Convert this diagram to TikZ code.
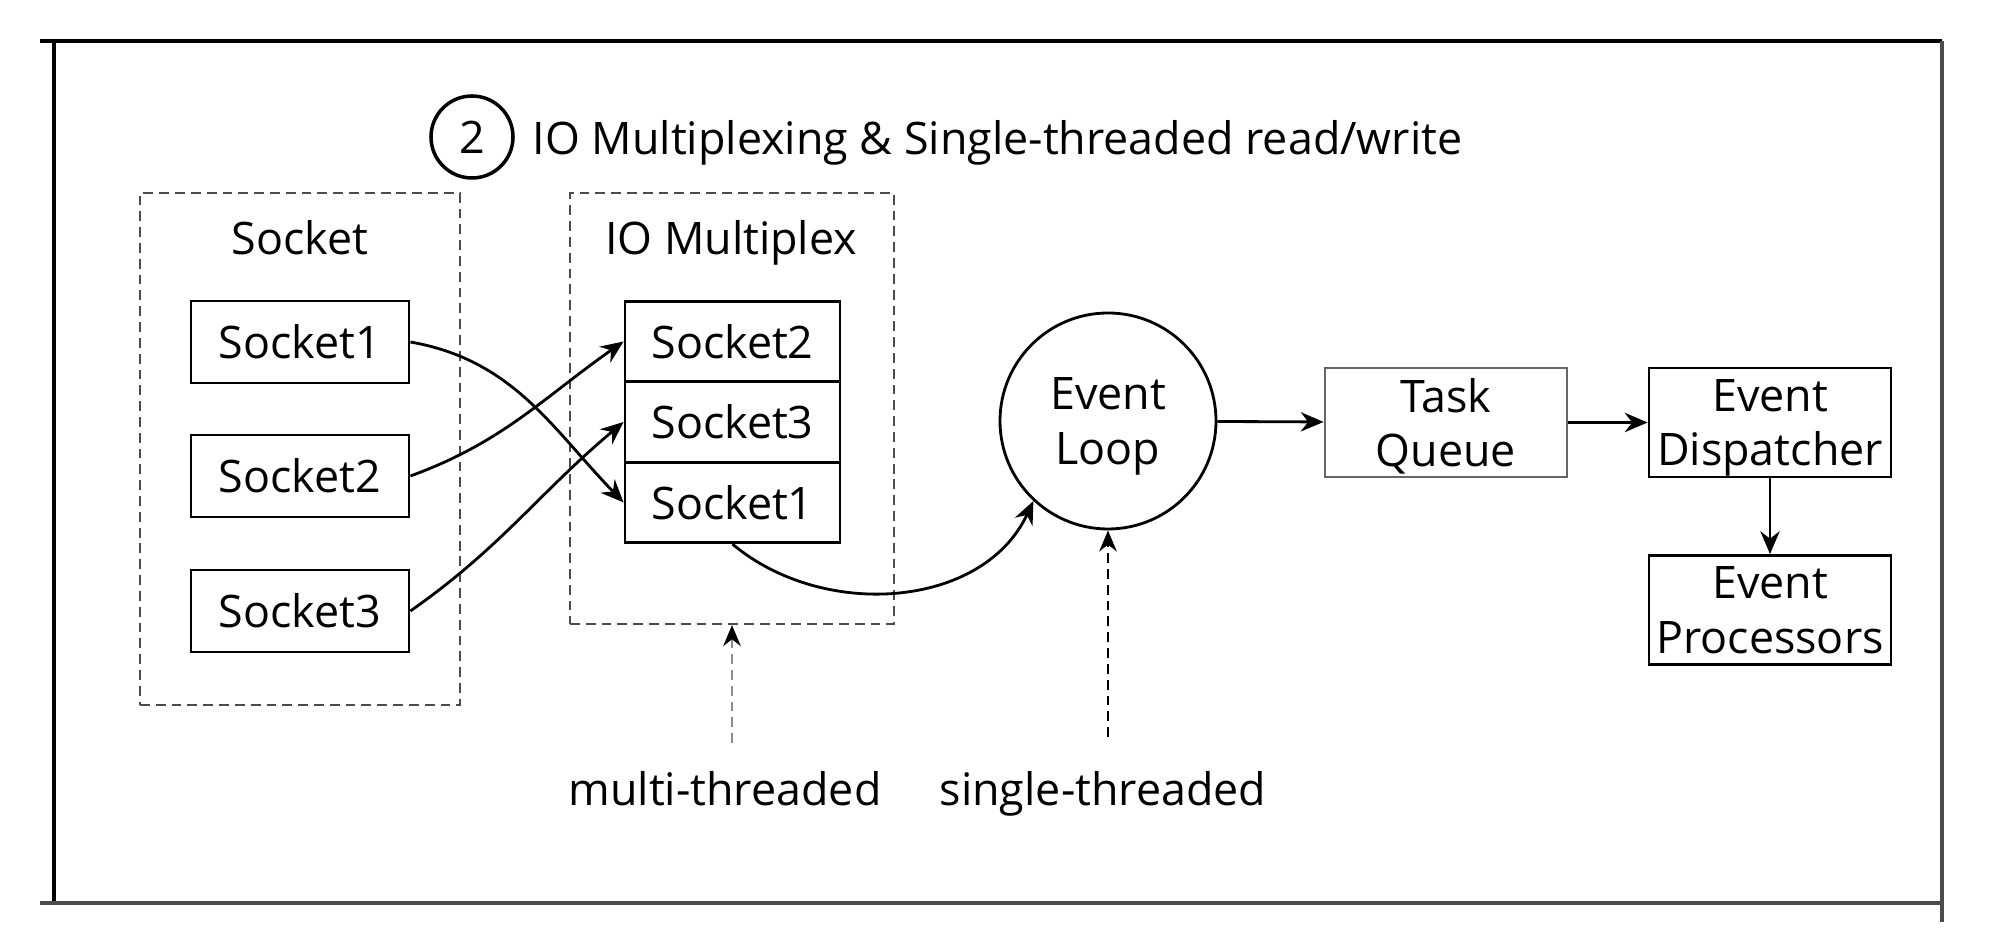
\documentclass[tikz,border=0pt]{standalone}
\usepackage{fontspec}
\setmainfont{Open Sans}
\usetikzlibrary{arrows.meta}

\begin{document}
\begin{tikzpicture}[font=\fontsize{12.75}{15.4}\selectfont, frame line/.style={line width=1pt, black}, group box/.style={draw=black!70, dash pattern=on 2.8pt off 1.7pt, line width=0.6pt, inner sep=0pt}, sock style/.style={draw, line width=0.8pt, minimum width=2.18cm, minimum height=0.82cm, inner sep=0pt}, stack style/.style={draw, line width=0.8pt, minimum width=2.15cm, minimum height=0.805cm, inner sep=0pt}, box style/.style={draw, line width=0.8pt, minimum width=2.42cm, minimum height=1.09cm, inner sep=0pt, align=center, text depth=0pt}, loop style/.style={circle, draw, line width=0.8pt, minimum size=2.16cm, inner sep=0pt, align=center, text depth=0pt}, flow edge/.style={-{Stealth[length=6.5pt, width=5.5pt]}, line width=0.8pt}, thread edge/.style={-{Stealth[length=6pt, width=5pt, color=black]}, line width=0.6pt, dash pattern=on 2.8pt off 1.7pt}]

    \useasboundingbox (0,0) rectangle (20,-9.28);

    % =========================================================================
    % Marco
    % =========================================================================
    \draw[frame line] (0.40,-0.41) -- (19.42,-0.41);
    \draw[frame line] (0.54,-0.41) -- (0.54,-9.03);
    \draw[frame line, black!70] (0.40,-9.03) -- (19.42,-9.03);
    \draw[frame line, black!70] (19.42,-0.41) -- (19.42,-9.22);

    % Titulo
    \node[circle, draw, line width=1pt, minimum size=0.82cm, inner sep=0pt] (num) at (4.72,-1.37) {2};
    \node[anchor=base west, inner sep=0pt] (title) at (5.32,-1.55) {IO Multiplexing \& Single-threaded read/write};

    % =========================================================================
    % Grupos
    % =========================================================================
    \node[group box, minimum width=3.2cm, minimum height=5.12cm] (sockets) at (3.00,-4.49) {};
    \node[anchor=base] (sockets label) at (3.00,-2.55) {Socket};
    \node[group box, minimum width=3.24cm, minimum height=4.31cm] (mux) at (7.32,-4.085) {};
    \node[anchor=base] (mux label) at (7.31,-2.55) {IO Multiplex};

    % Sockets
    \node[sock style] (s1) at (3.00,-3.42) {Socket1};
    \node[sock style] (s2) at (3.00,-4.76) {Socket2};
    \node[sock style] (s3) at (3.00,-6.11) {Socket3};

    % Cola del multiplexor
    \node[stack style] (m2) at (7.325,-3.415) {Socket2};
    \node[stack style] (m3) at (7.325,-4.22) {Socket3};
    \node[stack style] (m1) at (7.325,-5.025) {Socket1};

    % Bucle y despacho
    \node[loop style] (loop) at (11.08,-4.21) {Event\\Loop};
    \node[box style, draw=black!60] (queue) at (14.46,-4.225) {Task\\Queue};
    \node[box style] (dispatch) at (17.70,-4.225) {Event\\Dispatcher};
    \node[box style] (procs) at (17.70,-6.10) {Event\\Processors};

    % =========================================================================
    % Flechas
    % =========================================================================
    \draw[flow edge] (s1.east) to[out=-10, in=134] (m1.west);
    \draw[flow edge] (s2.east) to[out=20, in=215] (m2.west);
    \draw[flow edge] (s3.east) to[out=35, in=220] (m3.west);
    \draw[flow edge] (m1.south) to[out=-40, in=245] (loop.227);
    \draw[flow edge] (loop) -- (queue);
    \draw[flow edge] (queue) -- (dispatch);
    \draw[flow edge] (dispatch) -- (procs);

    % Hilos
    \coordinate (multi tail) at (7.32,-7.43);
    \coordinate (single tail) at (11.08,-7.37);
    \draw[thread edge, black!45] (multi tail) -- (mux.south);
    \draw[thread edge] (single tail) -- (loop.south);
    \node[anchor=base] (multi label) at (7.25,-8.06) {multi-threaded};
    \node[anchor=base] (single label) at (11.03,-8.06) {single-threaded};

\end{tikzpicture}
\end{document}
